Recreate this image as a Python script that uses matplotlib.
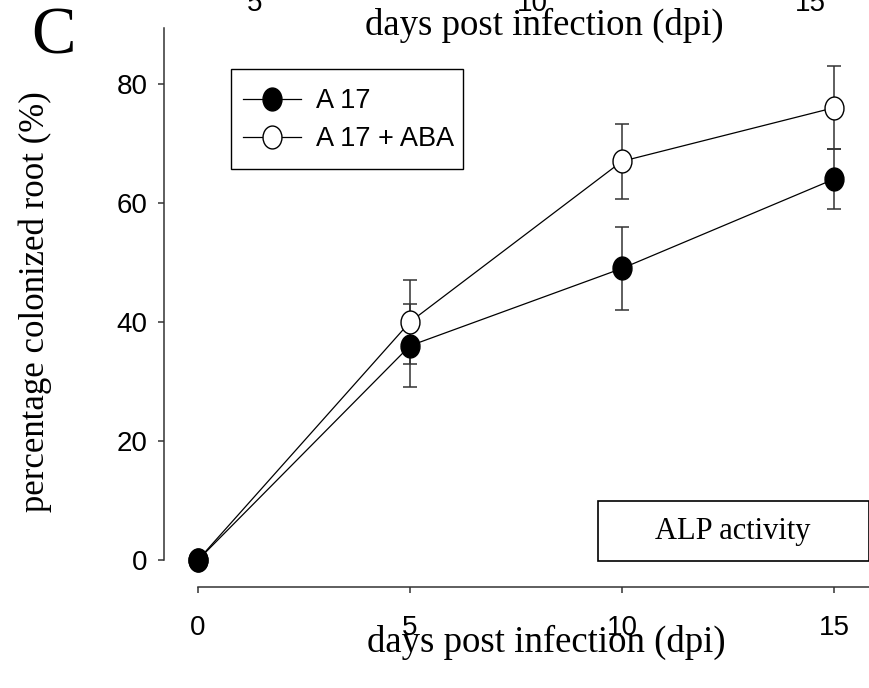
import numpy as np
import matplotlib
matplotlib.use("Agg")
import matplotlib.pyplot as plt
from matplotlib.path import Path
from matplotlib.transforms import Affine2D
from matplotlib.patches import Rectangle

# Colonization time course
days = [0, 5, 10, 15]
a17 = [0, 36, 49, 64]
a17_err = [0, 7, 7, 5]
a17_aba = [0, 40, 67, 76]
a17_aba_err = [0, 7, 6.3, 7]

top_ticks = ["5", "10", "15"]

serif = "Liberation Serif"
sans = "Liberation Sans"
dark = "#333333"

W, H = 870, 688
fig = plt.figure(figsize=(W / 100, H / 100), dpi=100)

def px(x, y):
    # pixel position (from top-left) to figure fraction
    return x / W, (H - y) / H

ax = fig.add_axes([198 / W, (H - 560) / H, (W - 198) / W, (560 - 28) / H])
ax.set_xlim(0, 15.85)
ax.set_ylim(0, 89.4)

# slightly tall oval marker
oval = Path.unit_circle().transformed(Affine2D().scale(19 / 23, 1))
msize = 16.5

ax.errorbar(days, a17_aba, yerr=a17_aba_err, fmt="none", ecolor=dark,
            elinewidth=1.1, capsize=4.7, capthick=1.1, clip_on=False, zorder=2)
ax.errorbar(days, a17, yerr=a17_err, fmt="none", ecolor=dark,
            elinewidth=1.1, capsize=4.7, capthick=1.1, clip_on=False, zorder=2)
l2, = ax.plot(days, a17_aba, color="black", lw=0.9, marker=oval, ms=msize,
              mfc="white", mec="black", mew=1.0, clip_on=False, zorder=3,
              label="A 17 + ABA")
l1, = ax.plot(days, a17, color="black", lw=0.9, marker=oval, ms=msize,
              mfc="black", mec="black", mew=1.0, clip_on=False, zorder=4,
              label="A 17")

for side in ("top", "right"):
    ax.spines[side].set_visible(False)
ax.spines["left"].set_position(("outward", 34 * 0.72))
ax.spines["bottom"].set_position(("outward", 27 * 0.72))
for side in ("left", "bottom"):
    ax.spines[side].set_color(dark)
    ax.spines[side].set_linewidth(1.1)

ax.set_xticks([0, 5, 10, 15])
ax.set_yticks([0, 20, 40, 60, 80])
ax.tick_params(axis="both", direction="out", length=4.5, width=1.1,
               color=dark, labelsize=20)
ax.tick_params(axis="y", pad=7.5)
ax.tick_params(axis="x", pad=16)
for lab in ax.get_xticklabels() + ax.get_yticklabels():
    lab.set_fontfamily(sans)

ax.set_xlabel("days post infection (dpi)", fontfamily=serif, fontsize=26.5,
              va="baseline")
ax.xaxis.set_label_coords((546 - 198) / 672, (560 - 652) / 532)
ax.set_ylabel("percentage colonized root (%)", fontfamily=serif, fontsize=25,
              va="center")
ax.yaxis.set_label_coords((35 - 198) / 672, (560 - 302) / 532)

# legend entries, with the frame drawn separately
leg = ax.legend(handles=[l1, l2], loc="upper left",
                bbox_to_anchor=px(231, 76), bbox_transform=fig.transFigure,
                prop={"family": sans, "size": 19.5}, frameon=False,
                handlelength=2.15, handletextpad=0.55, borderpad=0.45,
                labelspacing=0.45, borderaxespad=0)
lx0, ly0 = px(231, 169)
lx1, ly1 = px(463, 69)
fig.patches.append(Rectangle((lx0, ly0), lx1 - lx0, ly1 - ly0,
                             transform=fig.transFigure, fill=False,
                             edgecolor="black", lw=1.0))

# caption box in lower right
x0, y0 = px(598, 561)
x1, y1 = px(869, 501)
fig.patches.append(Rectangle((x0, y0), x1 - x0, y1 - y0, transform=fig.transFigure,
                             fill=False, edgecolor="black", lw=1.2))
fig.text(*px(733, 531), "ALP activity", fontfamily=serif, fontsize=22,
         ha="center", va="center")

# panel letter and remnants of the panel above
fig.text(*px(54, 53), "C", fontfamily=serif, fontsize=48, ha="center",
         va="baseline")
fig.text(*px(544, 35), "days post infection (dpi)", fontfamily=serif,
         fontsize=26.5, ha="center", va="baseline")
for xp, t in zip([255, 532, 810], top_ticks):
    fig.text(*px(xp, 11), t, fontfamily=sans, fontsize=20, ha="center",
             va="baseline")

fig.savefig("out.png", dpi=100)
